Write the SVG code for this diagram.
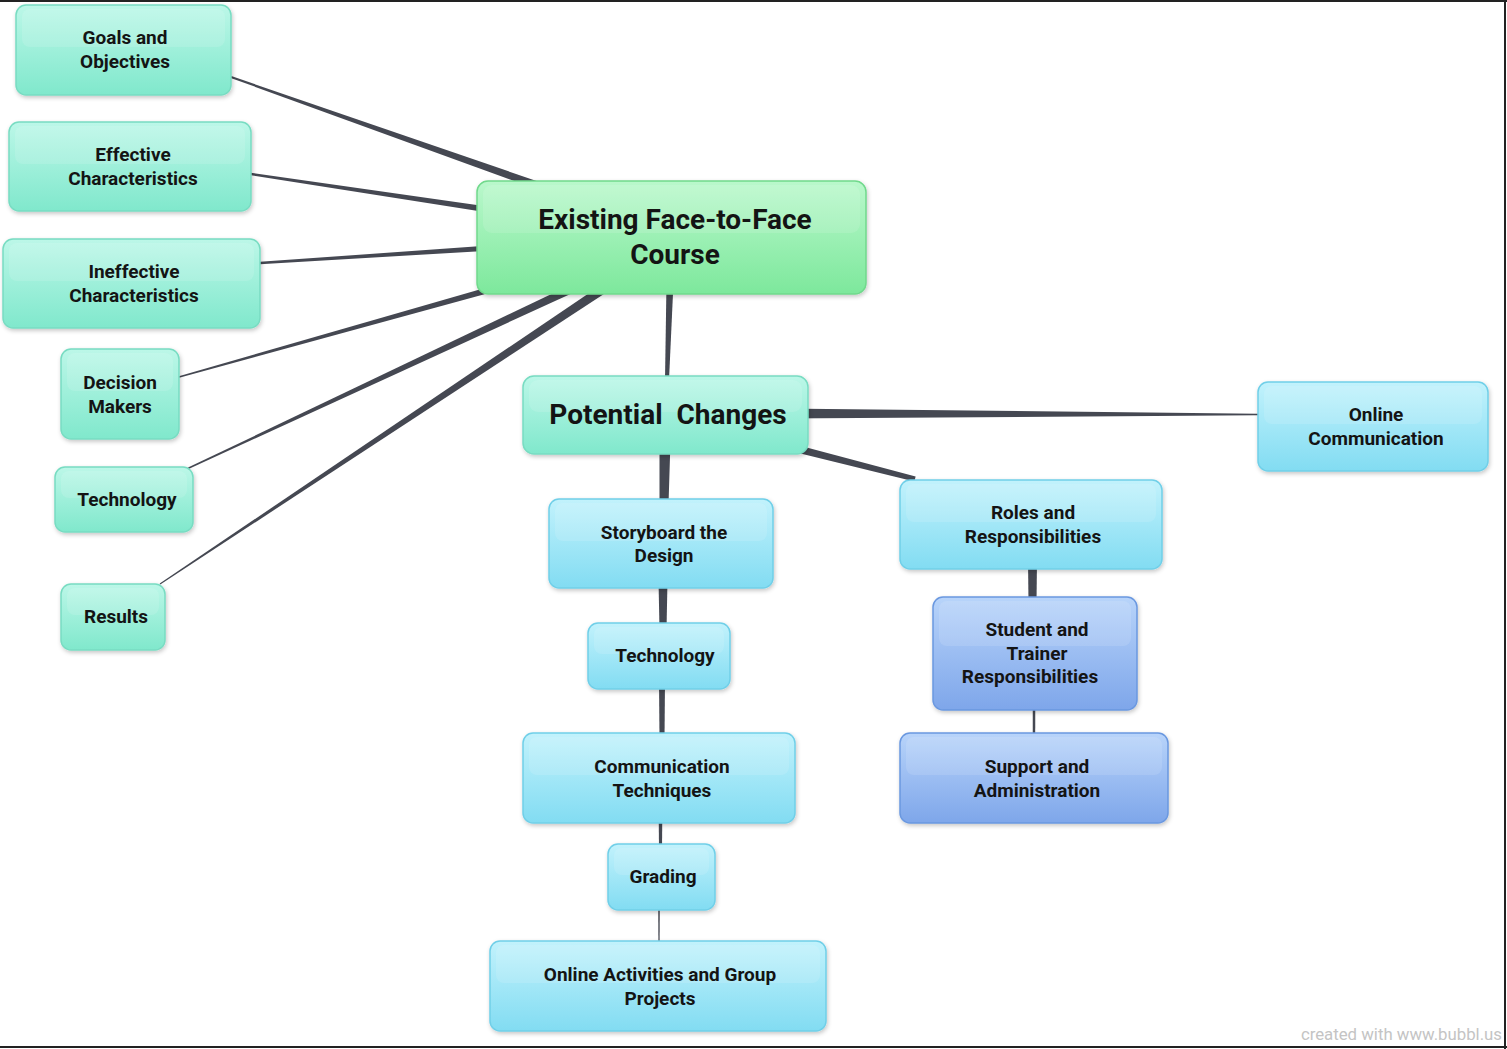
<svg xmlns="http://www.w3.org/2000/svg" width="1507" height="1049" viewBox="0 0 1507 1049">
<style>
  text { font-family: Roboto, "Noto Sans", "Liberation Sans", sans-serif; font-weight: bold; fill: #141414; text-anchor: middle; }
  .t { font-size: 19px; }
  .big { font-size: 28px; }
  .teal { fill: url(#gTeal); stroke: #78dcc2; stroke-width: 1.5; filter: url(#sh); }
  .green { fill: url(#gGreen); stroke: #70d98c; stroke-width: 1.5; filter: url(#sh); }
  .cyan { fill: url(#gCyan); stroke: #70cfe8; stroke-width: 1.5; filter: url(#sh); }
  .blue { fill: url(#gBlue); stroke: #6a98e0; stroke-width: 1.5; filter: url(#sh); }
  .hl { fill: #ffffff; opacity: 0.12; }
  .con { fill: #454852; }
  .frame { stroke: #222; stroke-width: 2; }
</style>
<defs>
  <linearGradient id="gTeal" x1="0" y1="0" x2="0" y2="1">
    <stop offset="0" stop-color="#bcf7e8"/>
    <stop offset="1" stop-color="#80e8cc"/>
  </linearGradient>
  <linearGradient id="gGreen" x1="0" y1="0" x2="0" y2="1">
    <stop offset="0" stop-color="#baf8cc"/>
    <stop offset="1" stop-color="#7de89c"/>
  </linearGradient>
  <linearGradient id="gCyan" x1="0" y1="0" x2="0" y2="1">
    <stop offset="0" stop-color="#c2f2fc"/>
    <stop offset="1" stop-color="#82dcf2"/>
  </linearGradient>
  <linearGradient id="gBlue" x1="0" y1="0" x2="0" y2="1">
    <stop offset="0" stop-color="#b8d4fa"/>
    <stop offset="1" stop-color="#7ea6ea"/>
  </linearGradient>
  <filter id="sh" x="-10%" y="-10%" width="120%" height="130%">
    <feDropShadow dx="1" dy="2" stdDeviation="2" flood-color="#000" flood-opacity="0.22"/>
  </filter>
</defs>

<rect x="0" y="0" width="1507" height="1049" fill="#ffffff"/>
<line class="frame" x1="0" y1="1" x2="1507" y2="1"/>
<line class="frame" x1="1505" y1="0" x2="1505" y2="1049"/>
<line class="frame" x1="0" y1="1047" x2="1507" y2="1047"/>

<g id="connectors">
  <polygon class="con" points="601.5,203.3 231.3,76.1 230.7,77.9 598.5,211.7"/>
  <polygon class="con" points="560,217 251,172.8 251,175.2 560,224"/>
  <polygon class="con" points="560,240.5 260,261.8 260,264.2 560,246.5"/>
  <polygon class="con" points="560.95,273.3 179.2,377.7 178.8,376.3 559.05,266.5"/>
  <polygon class="con" points="621.9,270.4 188.6,469 188,467.6 618.1,262.2"/>
  <polygon class="con" points="662.8,255.4 160.3,584.5 159.7,583.5 657.2,247"/>
  <polygon class="con" points="667,250 675,250 669,380 665,380"/>
  <polygon class="con" points="780,408.5 1258,413.7 1258,415.3 780,418.5"/>
  <polygon class="con" points="769,445.8 914.4,481.4 915.6,476.6 771,438"/>
  <polygon class="con" points="659.5,440 670.5,440 668.5,505 659.5,505"/>
  <polygon class="con" points="658.5,580 667.5,580 666.5,630 659.5,630"/>
  <polygon class="con" points="659,680 665,680 664.5,740 659.5,740"/>
  <polygon class="con" points="658.7,815 662.3,815 662,850 659,850"/>
  <polygon class="con" points="658.2,905 659.8,905 659.6,945 658.4,945"/>
  <polygon class="con" points="1028,560 1037,560 1036.5,603 1028.5,603"/>
  <polygon class="con" points="1032.7,700 1035.3,700 1035.2,740 1032.8,740"/>
</g>

<g id="n-goals">
  <rect class="teal" x="16" y="5" width="215" height="90" rx="10"/>
  <rect class="hl" x="22" y="9" width="203" height="38" rx="8"/>
  <text class="t" x="125" y="44">Goals and</text>
  <text class="t" x="125" y="68">Objectives</text>
</g>
<g id="n-effective">
  <rect class="teal" x="9" y="122" width="242" height="89" rx="10"/>
  <rect class="hl" x="15" y="126" width="230" height="38" rx="8"/>
  <text class="t" x="133" y="161">Effective</text>
  <text class="t" x="133" y="185">Characteristics</text>
</g>
<g id="n-ineffective">
  <rect class="teal" x="3" y="239" width="257" height="89" rx="10"/>
  <rect class="hl" x="9" y="243" width="245" height="38" rx="8"/>
  <text class="t" x="134" y="278">Ineffective</text>
  <text class="t" x="134" y="302">Characteristics</text>
</g>
<g id="n-decision">
  <rect class="teal" x="61" y="349" width="118" height="90" rx="10"/>
  <rect class="hl" x="67" y="353" width="106" height="38" rx="8"/>
  <text class="t" x="120" y="389">Decision</text>
  <text class="t" x="120" y="413">Makers</text>
</g>
<g id="n-technology-left">
  <rect class="teal" x="55" y="467" width="138" height="65" rx="10"/>
  <rect class="hl" x="61" y="471" width="126" height="27" rx="8"/>
  <text class="t" x="127" y="506">Technology</text>
</g>
<g id="n-results">
  <rect class="teal" x="61" y="584" width="104" height="66" rx="10"/>
  <rect class="hl" x="67" y="588" width="92" height="27" rx="8"/>
  <text class="t" x="116" y="623">Results</text>
</g>
<g id="n-existing">
  <rect class="green" x="477" y="181" width="389" height="113" rx="11"/>
  <rect class="hl" x="483" y="185" width="377" height="48" rx="9"/>
  <text class="big" x="675" y="229">Existing Face-to-Face</text>
  <text class="big" x="675" y="264">Course</text>
</g>
<g id="n-potential">
  <rect class="teal" x="523" y="376" width="285" height="78" rx="11"/>
  <rect class="hl" x="529" y="380" width="273" height="32" rx="9"/>
  <text class="big" x="668" y="424" style="white-space:pre">Potential  Changes</text>
</g>
<g id="n-online-comm">
  <rect class="cyan" x="1258" y="382" width="230" height="89" rx="10"/>
  <rect class="hl" x="1264" y="386" width="218" height="38" rx="8"/>
  <text class="t" x="1376" y="421">Online</text>
  <text class="t" x="1376" y="445">Communication</text>
</g>
<g id="n-roles">
  <rect class="cyan" x="900" y="480" width="262" height="89" rx="10"/>
  <rect class="hl" x="906" y="484" width="250" height="38" rx="8"/>
  <text class="t" x="1033" y="519">Roles and</text>
  <text class="t" x="1033" y="543">Responsibilities</text>
</g>
<g id="n-student">
  <rect class="blue" x="933" y="597" width="204" height="113" rx="10"/>
  <rect class="hl" x="939" y="601" width="192" height="45" rx="8"/>
  <text class="t" x="1037" y="636">Student and</text>
  <text class="t" x="1037" y="660">Trainer</text>
  <text class="t" x="1030" y="683">Responsibilities</text>
</g>
<g id="n-support">
  <rect class="blue" x="900" y="733" width="268" height="90" rx="10"/>
  <rect class="hl" x="906" y="737" width="256" height="38" rx="8"/>
  <text class="t" x="1037" y="773">Support and</text>
  <text class="t" x="1037" y="797">Administration</text>
</g>
<g id="n-storyboard">
  <rect class="cyan" x="549" y="499" width="224" height="89" rx="10"/>
  <rect class="hl" x="555" y="503" width="212" height="38" rx="8"/>
  <text class="t" x="664" y="539">Storyboard the</text>
  <text class="t" x="664" y="562">Design</text>
</g>
<g id="n-technology-center">
  <rect class="cyan" x="588" y="623" width="142" height="66" rx="10"/>
  <rect class="hl" x="594" y="627" width="130" height="27" rx="8"/>
  <text class="t" x="665" y="662">Technology</text>
</g>
<g id="n-communication">
  <rect class="cyan" x="523" y="733" width="272" height="90" rx="10"/>
  <rect class="hl" x="529" y="737" width="260" height="38" rx="8"/>
  <text class="t" x="662" y="773">Communication</text>
  <text class="t" x="662" y="797">Techniques</text>
</g>
<g id="n-grading">
  <rect class="cyan" x="608" y="844" width="107" height="66" rx="10"/>
  <rect class="hl" x="614" y="848" width="95" height="27" rx="8"/>
  <text class="t" x="663" y="883">Grading</text>
</g>
<g id="n-online-activities">
  <rect class="cyan" x="490" y="941" width="336" height="90" rx="10"/>
  <rect class="hl" x="496" y="945" width="324" height="38" rx="8"/>
  <text class="t" x="660" y="981">Online Activities and Group</text>
  <text class="t" x="660" y="1005">Projects</text>
</g>

<text x="1502" y="1040" style="font-weight:normal;font-size:16.8px;fill:#c4c4c4;text-anchor:end">created with www.bubbl.us</text>
</svg>
